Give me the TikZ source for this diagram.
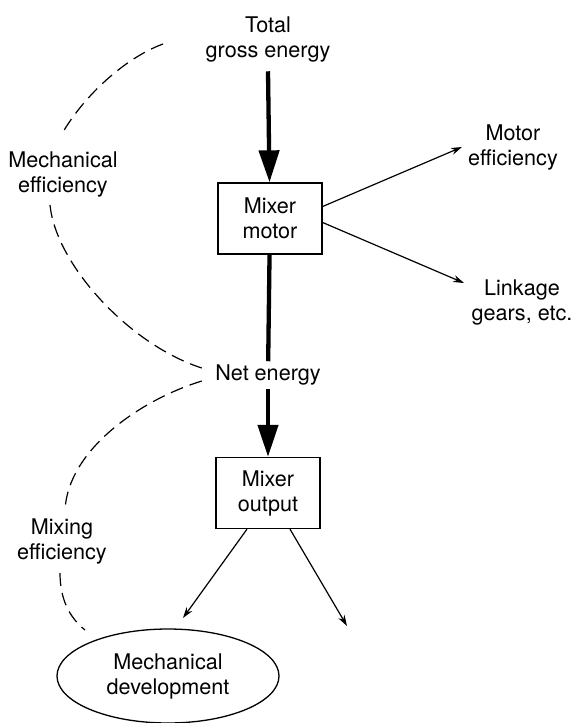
\documentclass[tikz,border=0pt]{standalone}
\usepackage{fontspec}
\setmainfont{TeX Gyre Heros}
\usetikzlibrary{arrows.meta}
\usetikzlibrary{shapes.geometric}

\begin{document}
\begin{tikzpicture}[x=1pt, y=-1pt,
      every node/.style={font=\fontsize{21.6}{25}\selectfont, align=center},
      stage/.style={draw, line width=1.3pt, minimum width=104pt,
          minimum height=71pt, inner sep=0pt},
      energy line/.style={line width=4.3pt},
      energy arrow/.style={energy line, -{Triangle[length=32pt, width=20pt]}},
      loss arrow/.style={line width=1.2pt, -{Stealth[length=11pt, width=7pt]}},
      efficiency line/.style={line width=1.2pt, dash pattern=on 13pt off 7pt}]
    \useasboundingbox (0,0) rectangle (574,723);

    % main energy path
    \node (total) at (268,39) {Total\\gross energy};
    \node[stage] (motor) at (270,218.5) {Mixer\\motor};
    \node (net) at (268,375) {Net energy};
    \node[stage] (output) at (268,493) {Mixer\\output};
    \node[ellipse, draw, line width=1.3pt, minimum width=222pt,
      minimum height=94pt, inner sep=0pt] (mech) at (168,676)
      {Mechanical\\development};

    % losses
    \node (motoreff) at (513,147) {Motor\\efficiency};
    \node (linkage) at (522,302) {Linkage\\gears, etc.};
    \coordinate (motortip) at (462,147);
    \coordinate (linktip) at (464,283);
    \coordinate (lefttip) at (183,618);
    \coordinate (righttip) at (347,626);

    % efficiencies
    \node (mecheff) at (63,174) {Mechanical\\efficiency};
    \node (mixeff) at (62,541) {Mixing\\efficiency};
    \coordinate (mechtop) at (163,44);
    \coordinate (mechabove) at (63,132);
    \coordinate (mechbelow) at (50,205);
    \coordinate (mixabove) at (65,510);
    \coordinate (mixbelow) at (60,573);
    \coordinate (mixend) at (85,630);

    \draw[energy arrow] ([yshift=-6pt]total.south) -- (motor);
    \draw[energy line] (motor) -- (net);
    \draw[energy arrow] (net) -- (output);

    \draw[loss arrow] ([yshift=12pt]motor.east) -- (motortip);
    \draw[loss arrow] ([yshift=-4pt]motor.east) -- (linktip);
    \draw[loss arrow] ([xshift=-21pt]output.south) -- (lefttip);
    \draw[loss arrow] ([xshift=22pt]output.south) -- (righttip);

    \draw[efficiency line] (mechtop) .. controls (125,58) and (85,95) .. (mechabove);
    \draw[efficiency line] (mechbelow) .. controls (56,265) and (130,345)
      .. ([shift={(-10pt,7pt)}]net.west);
    \draw[efficiency line] ([shift={(-10pt,-6pt)}]net.west)
      .. controls (140,400) and (68,450) .. (mixabove);
    \draw[efficiency line] (mixbelow) .. controls (60,600) and (70,618) .. (mixend);
  \end{tikzpicture}
\end{document}
